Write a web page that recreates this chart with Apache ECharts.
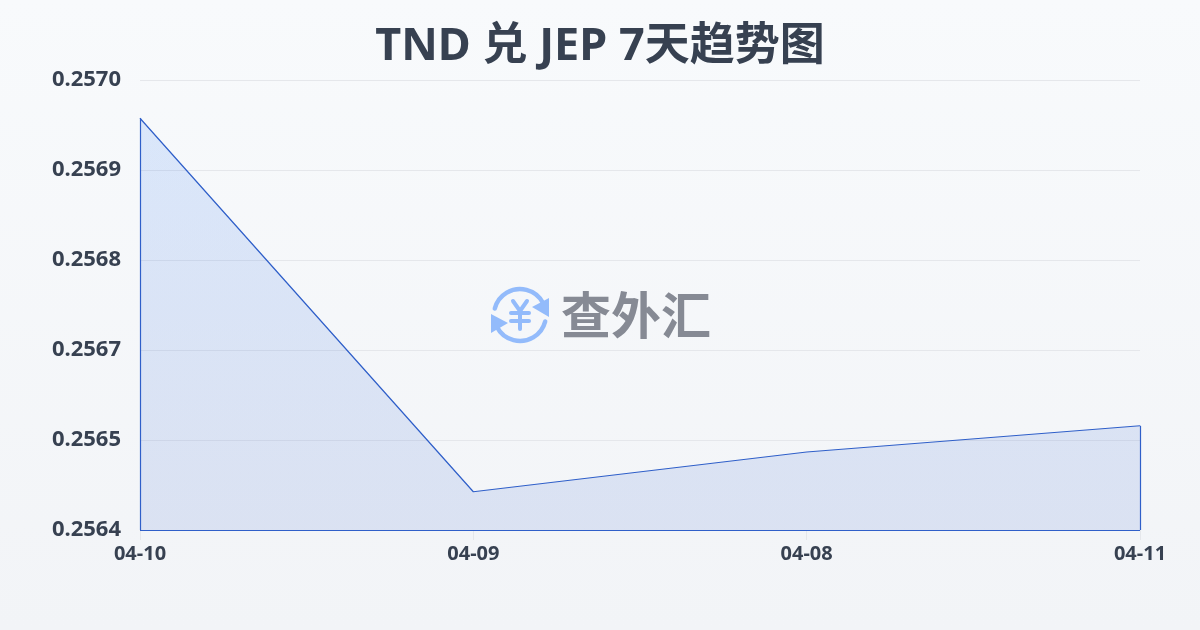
<!DOCTYPE html>
<html>
<head>
<meta charset="utf-8">
<title>TND 兑 JEP 7天趋势图</title>
<script src="https://cdn.jsdelivr.net/npm/echarts@6/dist/echarts.min.js"></script>
<style>
html,body{margin:0;padding:0;background:#f5f7fa;}
#chart{width:1200px;height:630px;}
</style>
</head>
<body>
<div id="chart"></div>
<script>
var titleText='TND 兑 JEP 7天趋势图';
var dates=['04-10','04-09','04-08','04-11'];
var rates=[0.256969,0.256471,0.256524,0.256559];
var yTicks=[0.25642,0.25654,0.25666,0.25678,0.2569,0.25702];

var fontName='"Noto Sans","Noto Sans CJK SC",sans-serif';
var lineColor='#2f5fc9';
var logoColor='#93bbfb';
var yMin=yTicks[0];
var yMax=yTicks[yTicks.length-1];
var lastDate=dates[dates.length-1];

var logoLine=function(x1,y1,x2,y2,w){
	return {
		type:'line',
		shape:{x1:x1,y1:y1,x2:x2,y2:y2},
		style:{stroke:logoColor,lineWidth:w,lineCap:'round'},
		silent:true
	};
};
var logoArc=function(a,b){
	return {
		type:'arc',
		shape:{cx:520,cy:315,r:26,startAngle:a,endAngle:b},
		style:{stroke:logoColor,lineWidth:4.5,fill:null,lineCap:'round'},
		silent:true
	};
};
var logoArrow=function(points){
	return {
		type:'polygon',
		shape:{points:points},
		style:{fill:logoColor},
		silent:true
	};
};

var chartObj=echarts.init(document.getElementById('chart'));
var option={
	backgroundColor:{
		type:'linear',x:0,y:0,x2:0,y2:1,
		colorStops:[{offset:0,color:'#f8fafc'},{offset:1,color:'#f2f4f7'}]
	},
	animation:false,
	title:{
		text:titleText,
		left:'center',
		top:20,
		textStyle:{color:'#374151',fontSize:45,fontWeight:'bold',fontFamily:fontName}
	},
	grid:{left:140,right:60,top:80,bottom:100},
	xAxis:{
		type:'category',
		boundaryGap:false,
		data:dates,
		axisLine:{show:false},
		axisTick:{show:true,alignWithLabel:true,length:10,lineStyle:{color:'#e5e7eb'}},
		axisLabel:{
			color:'#374151',fontSize:20,fontWeight:'bold',fontFamily:fontName,
			margin:14,
			showMinLabel:true,showMaxLabel:true,interval:0
		},
		splitLine:{show:false}
	},
	yAxis:{
		type:'value',
		min:yMin,
		max:yMax,
		axisLine:{show:false},
		axisTick:{show:false,customValues:yTicks},
		axisLabel:{
			color:'#374151',fontSize:22,fontWeight:'bold',fontFamily:fontName,
			margin:19,
			verticalAlign:'middle',
			padding:[0,0,4,0],
			customValues:yTicks,
			formatter:function(v){return v.toFixed(4);}
		},
		splitLine:{show:true,lineStyle:{color:'#e5e7eb',width:1}}
	},
	series:[
		{
			name:'汇率',
			type:'line',
			data:rates,
			symbol:'none',
			smooth:false,
			lineStyle:{color:lineColor,width:1.2},
			areaStyle:{
				color:{
					type:'linear',x:0,y:0,x2:0,y2:1,
					colorStops:[{offset:0,color:'rgba(59,130,246,0.22)'},{offset:1,color:'rgba(37,84,200,0.17)'}]
				}
			},
			markLine:{
				silent:true,
				symbol:'none',
				label:{show:false},
				lineStyle:{color:lineColor,width:1.2,type:'solid'},
				data:[
					[{xAxis:dates[0],yAxis:yMin},{xAxis:dates[0],yAxis:rates[0]}],
					[{xAxis:lastDate,yAxis:yMin},{xAxis:lastDate,yAxis:rates[rates.length-1]}],
					[{xAxis:dates[0],yAxis:yMin},{xAxis:lastDate,yAxis:yMin}]
				]
			}
		}
	],
	graphic:{
		elements:[
			logoArc(Math.PI*1.08,Math.PI*1.85),
			logoArc(Math.PI*0.08,Math.PI*0.85),
			logoArrow([[549,298],[549,317],[532,307]]),
			logoArrow([[491,314],[491,333],[508,323]]),
			logoLine(513,301,520,311,4),
			logoLine(527,301,520,311,4),
			logoLine(511,313,529,313,4),
			logoLine(511,321,529,321,4),
			logoLine(520,311,520,329,4),
			{
				type:'text',
				left:561,
				top:290,
				silent:true,
				style:{text:'查外汇',fill:'#868a94',fontSize:50,fontWeight:'bold',fontFamily:'"Noto Sans CJK SC",sans-serif'}
			}
		]
	}
};
chartObj.setOption(option);
</script>
</body>
</html>
